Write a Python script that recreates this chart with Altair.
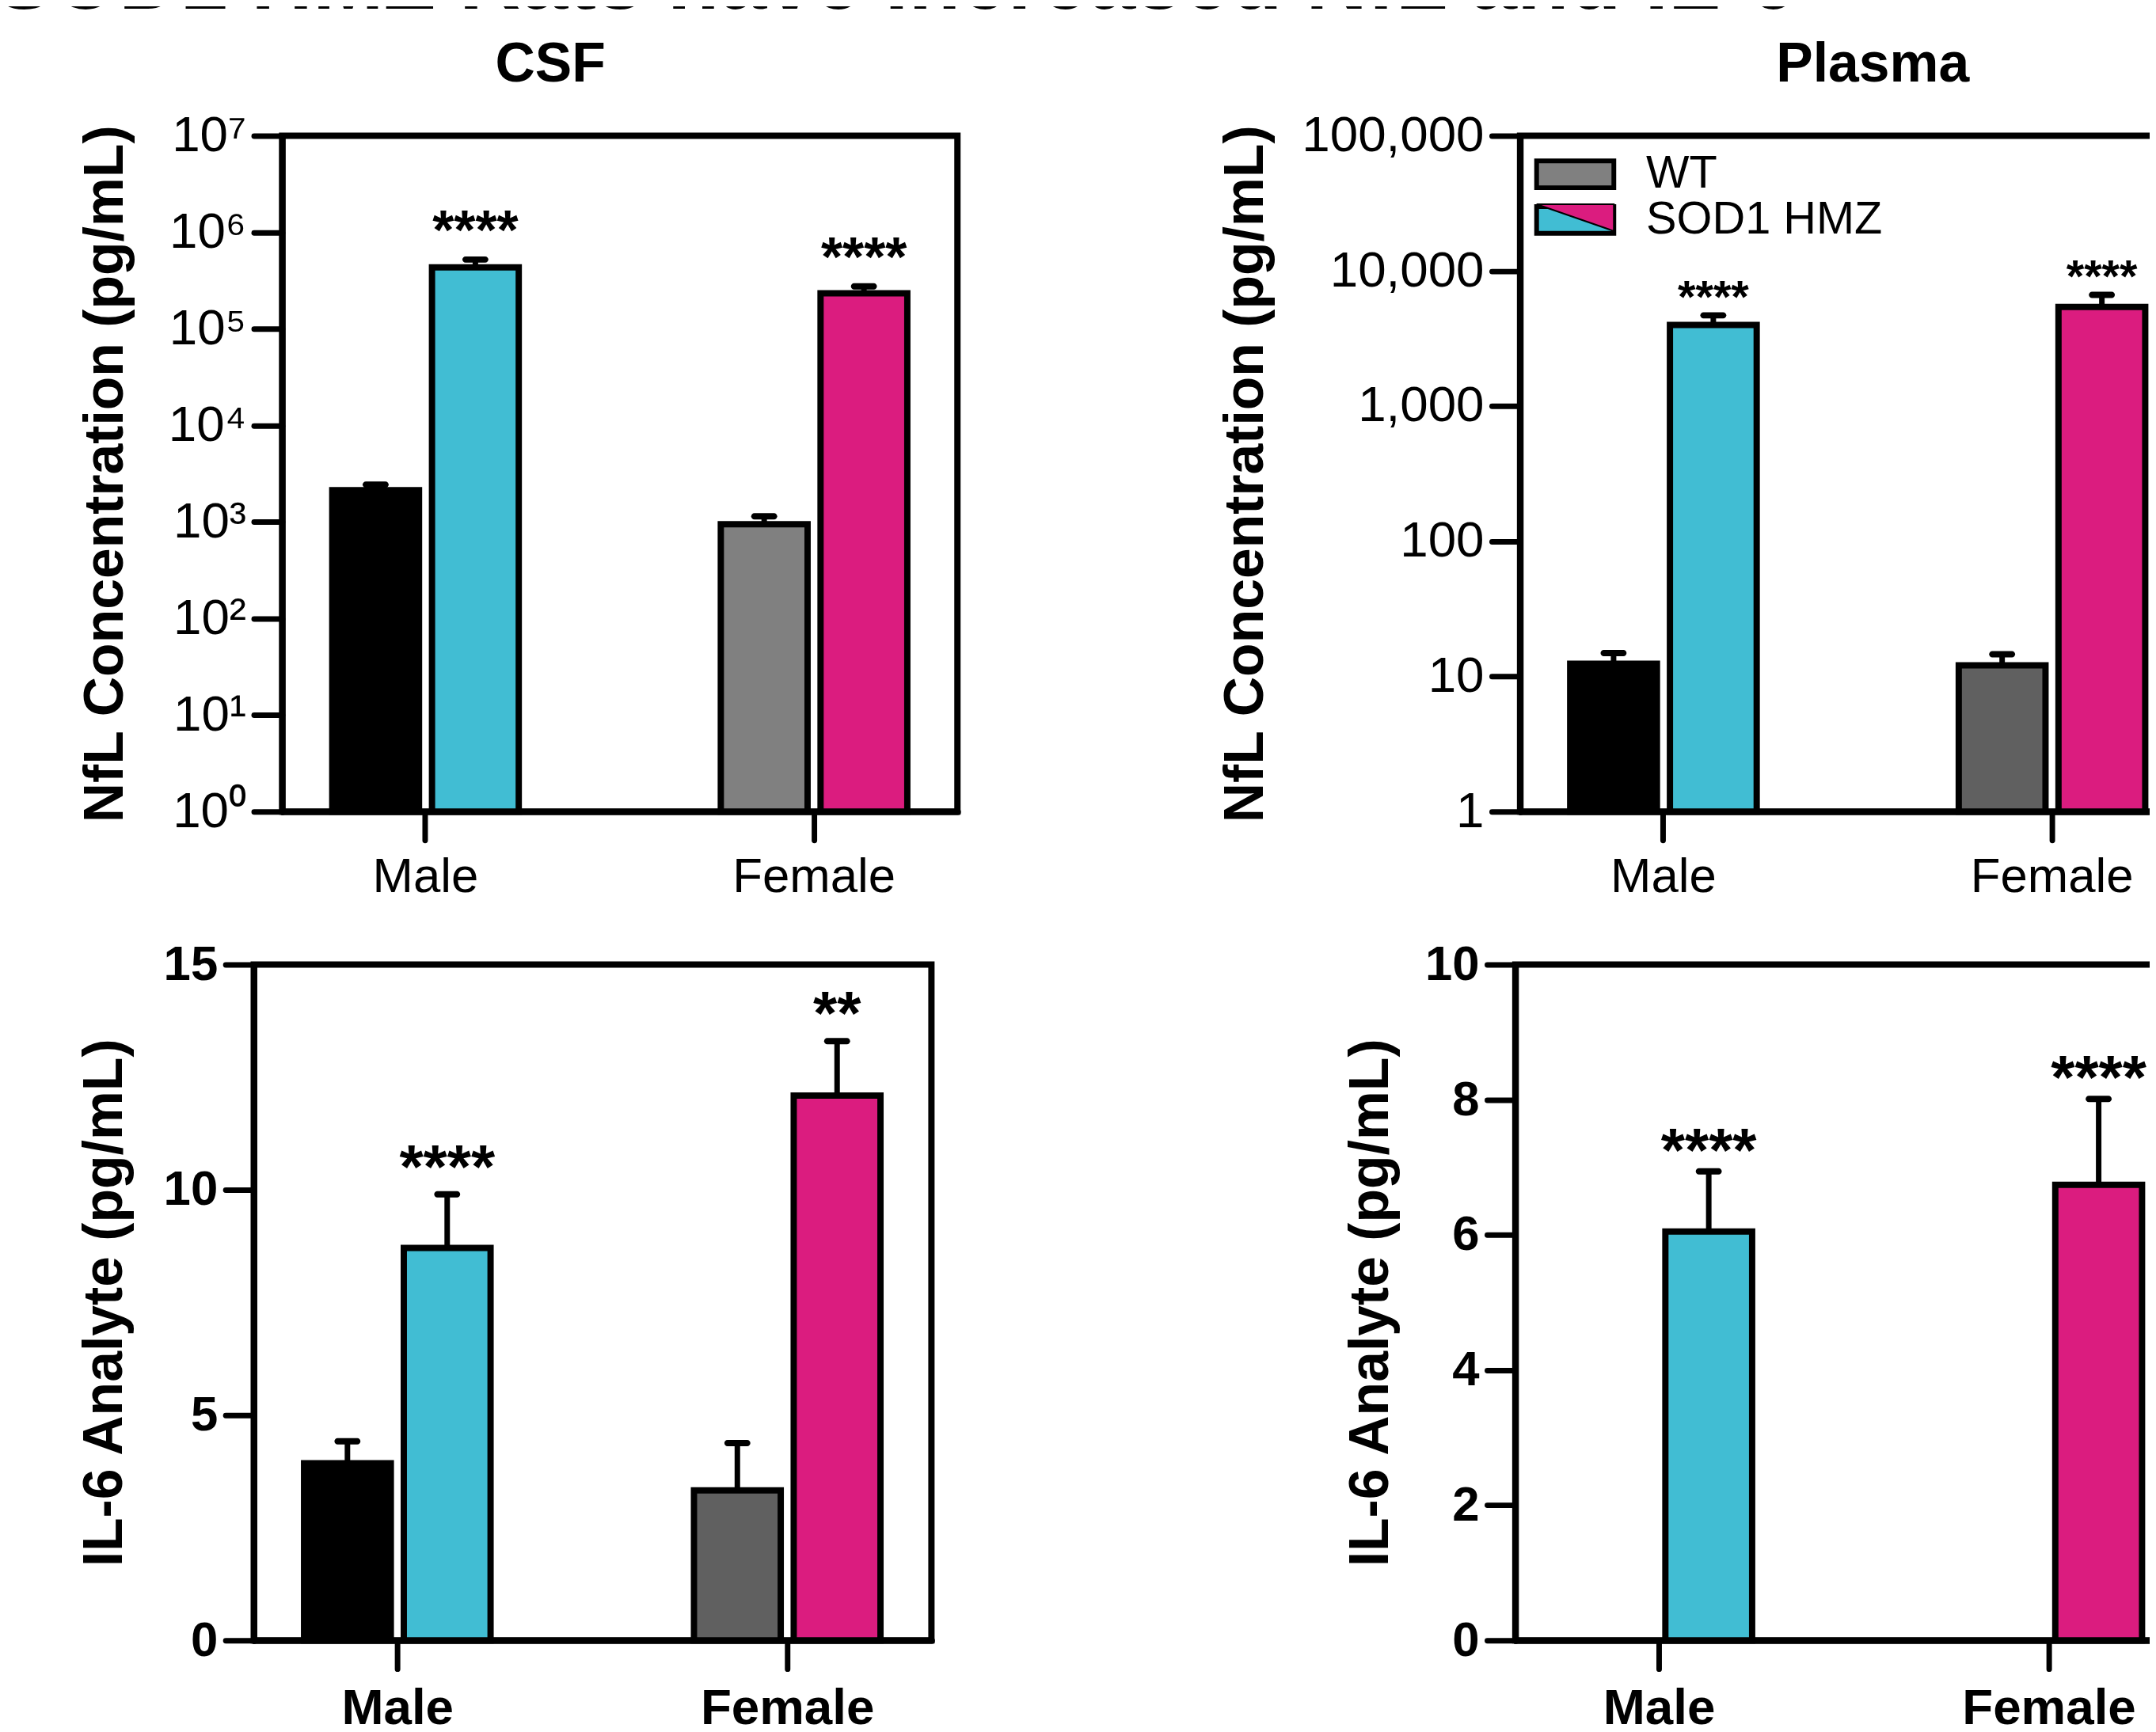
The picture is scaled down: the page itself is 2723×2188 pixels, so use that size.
import altair as alt
import pandas as pd

FONT = "Liberation Sans, Arial, Helvetica, sans-serif"

# ---------------- data ----------------
sexes = ["Male", "Male", "Female", "Female"]
groups = ["WT", "SOD1 HMZ", "WT", "SOD1 HMZ"]

csf_nfl_mean = [2130, 433000, 948, 233000]
csf_nfl_sem = [300, 89000, 197, 42000]
csf_nfl_sig = ["", "****", "", "****"]

plasma_nfl_mean = [12.4, 3980, 12.1, 5410]
plasma_nfl_sem = [2.5, 710, 2.5, 1240]
plasma_nfl_sig = ["", "****", "", "****"]

csf_il6_mean = [3.93, 8.71, 3.33, 12.09]
csf_il6_sem = [0.49, 1.19, 1.05, 1.21]
csf_il6_sig = ["", "****", "", "**"]

plasma_il6_mean = [None, 6.05, None, 6.74]
plasma_il6_sem = [None, 0.89, None, 1.27]
plasma_il6_sig = ["", "****", "", "****"]

csf_nfl_fill = ["#000000", "#41BDD3", "#808080", "#DB1C7F"]
other_fill = ["#000000", "#41BDD3", "#606060", "#DB1C7F"]

legend_labels = ["WT", "SOD1 HMZ"]
legend_colors = ["#808080", "#41BDD3"]
legend_overlay = ["#DB1C7F"]

log_ticks_csf = [1, 10, 100, 1000, 10000, 100000, 1000000, 10000000]
log_ticks_plasma = [1, 10, 100, 1000, 10000, 100000]
lin_ticks_csf = [0, 5, 10, 15]
lin_ticks_plasma = [0, 2, 4, 6, 8, 10]


def make_df(mean, sem, sig, fill, base):
    rows = []
    for s, g, m, e, t, f in zip(sexes, groups, mean, sem, sig, fill):
        rows.append({"sex": s, "group": g, "mean": m,
                     "upper": (m + e) if m is not None else None,
                     "base": base if m is not None else None,
                     "sig": t, "fill": f})
    return pd.DataFrame(rows)


XOFF = alt.XOffset("group:N", sort=legend_labels,
                   scale=alt.Scale(domain=legend_labels, paddingInner=0.13, paddingOuter=0))


def x_enc(bold, size, pad):
    return alt.X("sex:N", sort=["Male", "Female"],
                 scale=alt.Scale(domain=["Male", "Female"], paddingInner=0.52, paddingOuter=0.129),
                 axis=alt.Axis(title=None, labelAngle=0, labelFontSize=size,
                               labelFontWeight="bold" if bold else "normal",
                               labelPadding=pad, labelLimit=1000, domainCap="round"))


def panel(df, scale, axis, w, h, xbold, xsize, xpad, star_size, star_dy, title=None, legend=False):
    base = alt.Chart(df).encode(x=x_enc(xbold, xsize, xpad), xOffset=XOFF)
    ym = alt.Y("mean:Q", scale=scale, axis=axis)
    yu = alt.Y("upper:Q", scale=scale, axis=axis)
    err = base.mark_rule(color="black", strokeWidth=7).encode(y=ym, y2="upper:Q")
    bars = base.mark_bar(stroke="black", strokeWidth=8).encode(
        y=ym, y2="base:Q", fill=alt.Fill("fill:N", scale=None))
    caps = base.mark_tick(color="black", thickness=8, size=33, cornerRadius=4, opacity=1).encode(y=yu)
    stars = base.mark_text(font=FONT, fontWeight="bold", fontSize=star_size, baseline="alphabetic",
                           dy=star_dy, color="black").encode(y=yu, text="sig:N")
    layers = [err, bars, caps, stars]
    if legend:
        rect = "M-1.96,-0.68H1.96V0.68H-1.96Z"
        tri = "M-1.96,-0.68L1.96,-0.68L1.96,0.68Z"
        common = dict(title=None, orient="none", legendX=41, symbolSize=2500, symbolOpacity=1,
                      labelFont=FONT, labelFontSize=58, labelColor="black", labelOffset=61,
                      labelLimit=1000, rowPadding=-3, padding=0)
        legA = base.mark_point(filled=True, opacity=0, shape=rect, size=2500).encode(
            y=ym,
            fill=alt.Fill("group:N", scale=alt.Scale(domain=legend_labels, range=legend_colors),
                          legend=alt.Legend(legendY=20, symbolType=rect, symbolStrokeColor="black",
                                            symbolStrokeWidth=6, **common)))
        legB = base.transform_filter(alt.datum.group == "SOD1 HMZ").mark_point(
            filled=True, opacity=0, shape=tri, size=2500).encode(
            y=ym,
            fill=alt.Fill("group:N", scale=alt.Scale(domain=["SOD1 HMZ"], range=legend_overlay),
                          legend=alt.Legend(legendY=75, symbolType=tri, symbolStrokeColor="black",
                                            symbolStrokeWidth=2, labelExpr="''", **common)))
        layers += [legA, legB]
    ch = alt.layer(*layers).properties(width=w, height=h)
    if legend:
        ch = ch.resolve_scale(fill="independent").resolve_legend(fill="independent")
    if title is not None:
        ch = ch.properties(title=title)
    return ch


def spacer(w):
    # empty layout cell: lets each row start its first panel at its own offset
    return alt.Chart(pd.DataFrame({"v": [0]})).mark_point(opacity=0).encode(
        x=alt.X("v:Q", axis=None), y=alt.Y("v:Q", axis=None)
    ).properties(width=w, height=1, view=alt.ViewBackground(stroke="transparent"))


sup = "['⁰','¹','²','³','⁴','⁵','⁶','⁷']"

tl_axis = alt.Axis(title="NfL Concentration (pg/mL)", values=log_ticks_csf,
                   labelExpr="'10' + " + sup + "[round(log(datum.value)/LN10)]",
                   labelFontSize=64, labelPadding=10, labelFlush=False, labelOverlap=False,
                   labelLimit=1000, titleFontSize=70, titleFontWeight="bold", titlePadding=43, grid=False)
tr_axis = alt.Axis(title="NfL Concentration (pg/mL)", values=log_ticks_plasma, format=",",
                   labelFontSize=64, labelPadding=10, labelFlush=False, labelOverlap=False,
                   labelLimit=1000, titleFontSize=70, titleFontWeight="bold", titlePadding=112, grid=False)
bl_axis = alt.Axis(title="IL-6 Analyte (pg/mL)", values=lin_ticks_csf,
                   labelFontSize=62, labelFontWeight="bold", labelPadding=10, labelFlush=False,
                   labelLimit=1000, titleFontSize=70, titleFontWeight="bold", titlePadding=38, grid=False)
br_axis = alt.Axis(title="IL-6  Analyte  (pg/mL)", values=lin_ticks_plasma,
                   labelFontSize=62, labelFontWeight="bold", labelPadding=10, labelFlush=False,
                   labelLimit=1000, titleFontSize=70, titleFontWeight="bold", titlePadding=32, grid=False)

tl = panel(make_df(csf_nfl_mean, csf_nfl_sem, csf_nfl_sig, csf_nfl_fill, 1),
           alt.Scale(type="log", domain=[1, 10000000]), tl_axis, 857, 858,
           False, 62, 17, 70, -13,
           title=alt.TitleParams("CSF", fontSize=70, fontWeight="bold", font=FONT, anchor="middle",
                                 frame="group", dx=-88, offset=-33, baseline="alphabetic", color="black"))
tr = panel(make_df(plasma_nfl_mean, plasma_nfl_sem, plasma_nfl_sig, other_fill, 1),
           alt.Scale(type="log", domain=[1, 100000]), tr_axis, 857, 858,
           False, 62, 17, 58, -3,
           title=alt.TitleParams("Plasma", fontSize=70, fontWeight="bold", font=FONT, anchor="middle",
                                 frame="group", dx=19, offset=-33, baseline="alphabetic", color="black"),
           legend=True)
bl = panel(make_df(csf_il6_mean, csf_il6_sem, csf_il6_sig, other_fill, 0),
           alt.Scale(domain=[0, 15]), bl_axis, 860, 858, True, 64, 19, 78, -8)
br = panel(make_df(plasma_il6_mean, plasma_il6_sem, plasma_il6_sig, other_fill, 0),
           alt.Scale(domain=[0, 10]), br_axis, 860, 858, True, 64, 19, 78, 0)

top = alt.hconcat(spacer(197), tl, tr, spacing=323, bounds="full")
bottom = alt.hconcat(spacer(1), bl, br, spacing=515, bounds="full")

chart = alt.concat(
    top, bottom, columns=1, align="none", spacing=41, bounds="full",
    title=alt.TitleParams("SOD1 HMZ Rats have Increased NfL and IL-6", fontSize=108,
                          fontWeight="bold", font=FONT, anchor="start", frame="bounds",
                          dx=430, offset=-76, baseline="alphabetic", color="black"),
    padding={"left": -444, "top": -88, "right": -62, "bottom": -19},
).configure_view(
    stroke="black", strokeWidth=8
).configure_axis(
    domainColor="black", domainWidth=8, domainCap="round",
    tickColor="black", tickWidth=7, tickSize=36, tickCap="round",
    labelColor="black", titleColor="black", labelFont=FONT, titleFont=FONT, grid=False
)

chart.save("out.html", embed_options={"renderer": "svg", "actions": False})
